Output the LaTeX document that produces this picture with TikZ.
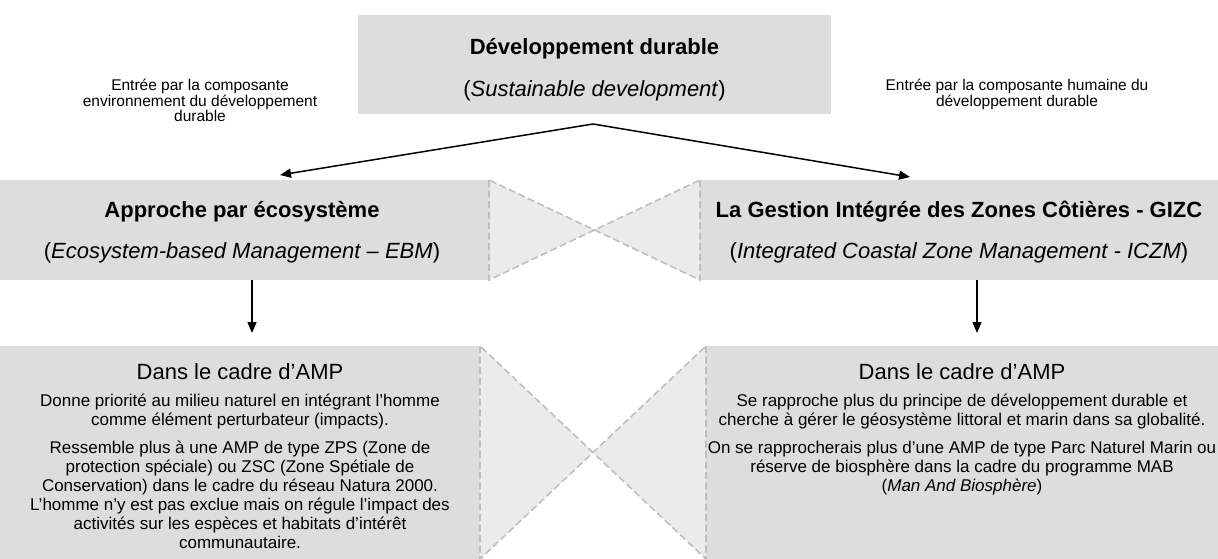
\documentclass[tikz,border=0pt]{standalone}
\usepackage{fontspec}
\setmainfont{Liberation Sans}
\usetikzlibrary{arrows.meta}
\definecolor{boxgray}{HTML}{DDDDDD}
\definecolor{trigray}{HTML}{EBEBEB}
\definecolor{dashgray}{HTML}{BFBFBF}
\begin{document}
\begin{tikzpicture}[x=1pt,y=-1pt,
  panel/.style={fill=boxgray, draw=none, inner sep=0pt, outer sep=0pt},
  titletxt/.style={anchor=base, inner sep=0pt, font=\fontsize{22}{26}\selectfont\bfseries},
  subtxt/.style={anchor=base, inner sep=0pt, font=\fontsize{22}{26}\selectfont},
  headtxt/.style={anchor=base, inner sep=0pt, font=\fontsize{22}{26}\selectfont},
  bodytxt/.style={anchor=north, inner sep=0pt, align=center, font=\fontsize{17}{19}\selectfont},
  labeltxt/.style={anchor=north, inner sep=0pt, align=center, font=\fontsize{15.5}{15.5}\selectfont},
  bowtie/.style={fill=trigray, draw=dashgray, line width=1.6pt, dash pattern=on 7pt off 3.5pt},
  arr/.style={draw=black, line width=1.5pt, -{Triangle[length=11pt,width=9pt]}}
]
\useasboundingbox (0,0) rectangle (1218,559);

% boxes
\node[panel, minimum width=473pt, minimum height=99pt] (top) at (594.5,64.5) {};
\node[panel, minimum width=489pt, minimum height=100pt] (midL) at (244.5,230) {};
\node[panel, minimum width=518pt, minimum height=100pt] (midR) at (959,230) {};
\node[panel, minimum width=480pt, minimum height=213pt] (botL) at (240,452.5) {};
\node[panel, minimum width=512pt, minimum height=213pt] (botR) at (962,452.5) {};

% bowties
\coordinate (xm) at (594.5,230);
\coordinate (xb) at (593,452.5);
\draw[bowtie] (midL.north east) -- (midL.south east) -- (xm) -- cycle;
\draw[bowtie] (midR.north west) -- (midR.south west) -- (xm) -- cycle;
\draw[bowtie] (botL.north east) -- (botL.south east) -- (xb) -- cycle;
\draw[bowtie] (botR.north west) -- (botR.south west) -- (xb) -- cycle;

% top texts
\node[titletxt] (t1) at (594.5,55) {Développement durable};
\node[subtxt] (t2) at (594.5,97) {(\textit{Sustainable development})};

\node[titletxt] (l1) at (242,217) {Approche par écosystème};
\node[subtxt] (l2) at (242,258) {(\textit{Ecosystem-based Management – EBM})};

\node[titletxt] (r1) at (959,217) {La Gestion Intégrée des Zones Côtières - GIZC};
\node[subtxt] (r2) at (959,258) {(\textit{Integrated Coastal Zone Management - ICZM})};

% labels
\node[labeltxt] (labL) at (200,79) {Entrée par la composante\\environnement du développement\\durable};
\node[labeltxt] (labR) at (1017,79) {Entrée par la composante humaine du\\développement durable};

% bottom headings
\node[headtxt] (hL) at (240,379) {Dans le cadre d’AMP};
\node[headtxt] (hR) at (962,379) {Dans le cadre d’AMP};

\node[bodytxt] (bL) at (240,394) {Donne priorité au milieu naturel en intégrant l’homme\\
comme élément perturbateur (impacts).\\[9pt]
Ressemble plus à une AMP de type ZPS (Zone de\\
protection spéciale) ou ZSC (Zone Spétiale de\\
Conservation) dans le cadre du réseau Natura 2000.\\
L’homme n’y est pas exclue mais on régule l’impact des\\
activités sur les espèces et habitats d’intérêt\\
communautaire.};

\node[bodytxt] (bR) at (962,394) {Se rapproche plus du principe de développement durable et\\
cherche à gérer le géosystème littoral et marin dans sa globalité.\\[9pt]
On se rapprocherais plus d’une AMP de type Parc Naturel Marin ou\\
réserve de biosphère dans la cadre du programme MAB\\
(\textit{Man And Biosphère})};

% arrows
\coordinate (apex) at (593,124);
\coordinate (tipL) at (280,175);
\coordinate (tipR) at (910,177);
\coordinate (dLs) at (252,280);
\coordinate (dLe) at (252,333);
\coordinate (dRs) at (977,280);
\coordinate (dRe) at (977,333);
\draw[arr] (apex) -- (tipL);
\draw[arr] (apex) -- (tipR);
\draw[arr] (dLs) -- (dLe);
\draw[arr] (dRs) -- (dRe);
\end{tikzpicture}
\end{document}
